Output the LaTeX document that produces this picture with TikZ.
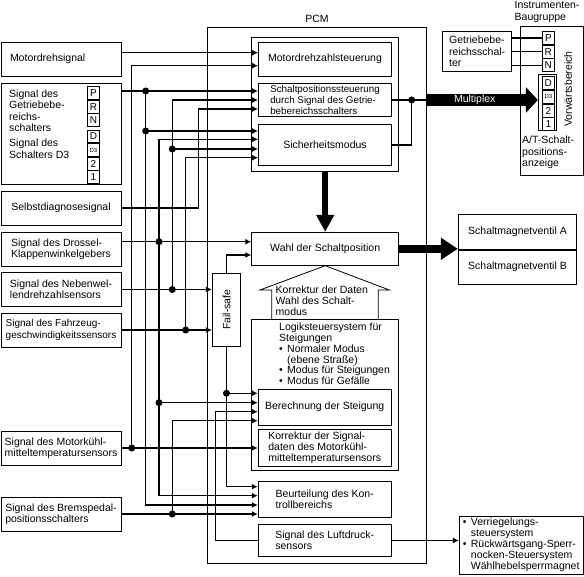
\documentclass[tikz,border=0pt]{standalone}
\usepackage{fontspec}
\setmainfont{Liberation Sans}
\usepackage{tikz}
\usetikzlibrary{positioning,arrows.meta,calc}
\definecolor{ink}{HTML}{000000}
\newcommand{\bul}{\makebox[8pt][l]{\textbullet}}
\newcommand{\nobul}{\hspace*{8pt}}
\tikzset{
  box/.style={draw=ink, line width=0.8pt, inner sep=0pt, align=left, font=\fontsize{10.5}{11.2}\selectfont, text=ink},
  sig/.style={draw=ink, line width=1.4pt, -{Latex[length=6pt,width=6pt]}},
  wire/.style={draw=ink, line width=1.4pt},
  jn/.style={circle, fill=ink, inner sep=0pt, minimum size=7pt},
  lbl/.style={font=\fontsize{10.5}{11.2}\selectfont, text=ink, align=left, inner sep=0pt},
}

\begin{document}
\begin{tikzpicture}[x=1pt, y=-1pt,
  lbox/.style={box, minimum width=120pt, minimum height=34pt},
  sub/.style={box, minimum width=133pt},
  cell/.style={draw=ink, line width=0.8pt, minimum width=12pt, minimum height=12.8pt, inner sep=0pt, font=\fontsize{10}{10}\selectfont},
  fat/.style={draw=ink, line width=#1}]
\useasboundingbox (0,0) rectangle (584,577);

\node[box, line width=0.7pt, minimum width=219.4pt, minimum height=535.7pt] (pcm) at (317,295.15) {};
\node[lbl, above=4pt of pcm] (pcml) {PCM};

\node[lbox, text width=102pt] (mds) at (61,59) {Motordrehsignal};
\node[lbox, minimum height=101pt] (gbr) at (61,133.5) {};
\node[lbl, anchor=west] (gbrt1) at (9,110.7) {Signal des\\Getriebebe-\\reichs-\\schalters};
\node[lbl, anchor=west] (gbrt2) at (9,148.8) {Signal des\\Schalters D3};
\node[cell] (lP) at (93.5,93.1) {P};
\node[cell, below=0pt of lP] (lR) {R};
\node[cell, below=0pt of lR] (lN) {N};
\node[cell] (lD) at (93.5,136.5) {D};
\node[cell, below=0pt of lD] (lD3) {\fontsize{6}{6}\selectfont D3};
\node[cell, below=0pt of lD3] (l2) {2};
\node[cell, below=0pt of l2] (l1) {1};
\node[lbox] (sds) at (61,208) {Selbstdiagnosesignal};
\node[lbox] (dkw) at (61,249) {Signal des Drossel-\\Klappenwinkelgebers};
\node[lbox] (nws) at (61,289.5) {Signal des Nebenwel-\\lendrehzahlsensors};
\node[lbox, font=\fontsize{10}{11.2}\selectfont] (fgs) at (61,330) {Signal des Fahrzeug-\\geschwindigkeitssensors};
\node[lbox] (mkt) at (61,448) {Signal des Motorkühl-\\mitteltemperatursensors};
\node[lbox] (bps) at (61,514) {Signal des Bremspedal-\\positionsschalters};

\node[box, minimum width=147pt, minimum height=134.4pt] (grp) at (325.2,104.5) {};
\node[sub, minimum height=33.7pt] (mdz) at (325,59.2) {Motordrehzahlsteuerung};
\node[sub, minimum height=33.4pt, font=\fontsize{9.8}{10.8}\selectfont] (spc) at (325,100) {Schaltpositionssteuerung\\durch Signal des Getrie-\\bebereichsschalters};
\node[sub, minimum height=41.7pt] (sich) at (325,144.85) {Sicherheitsmodus};

\node[box, minimum width=147pt, minimum height=33pt] (wahl) at (325.2,248.8) {Wahl der Schaltposition};
\node[box, minimum width=28.4pt, minimum height=72.7pt] (fs) at (226.5,309.7) {\rotatebox{90}{Fail-safe}};

\draw[draw=ink, line width=0.8pt] (271.7,319.3) -- (271.7,290) -- (260,290) -- (wahl.south) -- (389.3,290) -- (378.3,290) -- (378.3,319.3);
\node[lbl, anchor=west] (kdw) at (275.5,301) {Korrektur der Daten\\Wahl des Schalt-\\modus};

\node[box, minimum width=147pt, minimum height=150.7pt] (logik) at (325.2,394.65) {};
\node[lbl, anchor=west, font=\fontsize{10.5}{10.8}\selectfont] (logt) at (279,354) {Logiksteuersystem für\\Steigungen\\\bul Normaler Modus\\\nobul(ebene Straße)\\\bul Modus für Steigungen\\\bul Modus für Gefälle};
\node[sub, minimum height=35.7pt] (ber) at (324.7,407.2) {Berechnung der Steigung};
\node[sub, minimum height=37.4pt] (kor) at (324.7,448) {Korrektur der Signal-\\daten des Motorkühl-\\mitteltemperatursensors};
\node[sub, minimum height=35.6pt] (bt) at (324.7,499.5) {Beurteilung des Kon-\\trollbereichs};
\node[sub, minimum height=32.4pt] (lfd) at (324.7,540.5) {Signal des Luftdruck-\\sensors};

\node[box, minimum width=118.4pt, minimum height=35.3pt, align=center] (smva) at (517.5,231.65) {Schaltmagnetventil A};
\node[box, minimum width=118.4pt, minimum height=34pt, align=center, below=0pt of smva] (smvb) {Schaltmagnetventil B};

\node[box, minimum width=123.7pt, minimum height=58pt, font=\fontsize{10.5}{11}\selectfont] (lock) at (521.2,545) {\bul Verriegelungs-\\\nobul steuersystem\\\bul Rückwärtsgang-Sperr-\\\nobul nocken-Steuersystem\\\nobul Wählhebelsperrmagnet};

\node[box, minimum width=62.3pt, minimum height=148.3pt] (inst) at (551.85,100.85) {};
\node[lbl, anchor=south west] (instl) at (514.5,22.5) {Instrumenten-\\Baugruppe};
\node[box, minimum width=69pt, minimum height=40.7pt] (gbs) at (477.2,51.35) {Getriebebe-\\reichsschal-\\ter};
\node[cell] (iP) at (548.35,38.1) {P};
\node[cell, below=0pt of iP] (iR) {R};
\node[cell, below=0pt of iR] (iN) {N};
\node[draw=ink, line width=0.8pt, minimum width=18.4pt, minimum height=56.7pt, inner sep=0pt] (dstk) at (547.5,102.35) {};
\node[cell, minimum height=12.9pt] (iD) at (548.35,83.15) {D};
\node[cell, minimum height=12.9pt, below=0pt of iD] (iD3) {\fontsize{6}{6}\selectfont D3};
\node[cell, minimum height=12.9pt, below=0pt of iD3] (i2) {2};
\node[cell, minimum height=12.9pt, below=0pt of i2] (i1) {1};
\node[lbl, rotate=90] (vwb) at (568,89) {Vorwärtsbereich};
\node[lbl, anchor=north west] (atl) at (522,136) {A/T-Schalt-\\positions-\\anzeige};

\coordinate (bA) at (131.7,0);
\coordinate (bB) at (145.7,0);
\coordinate (bC) at (159,0);
\coordinate (bD) at (172.3,0);
\coordinate (bE) at (185.7,0);
\coordinate (bF) at (198.3,0);
\coordinate (bH) at (215.7,0);
\coordinate (mux) at (411.7,100);

\draw[sig] (mds.east |- 0,52.7) -- (mdz.west |- 0,52.7);
\draw[sig] (bA |- mkt.east) -- (bA |- 0,65.7) -- (mdz.west |- 0,65.7);
\draw[sig] (gbr.east |- 0,91) -- (spc.west |- 0,91);
\draw[sig] (bB |- 0,91) -- (bB |- 0,505) -- (bt.west |- 0,505);
\draw[sig] (bB |- 0,131) -- (sich.west |- 0,131);
\draw[sig] (bD |- nws.east) -- (bD |- spc.west) -- (spc.west);
\draw[sig] (bD |- 0,149) -- (sich.west |- 0,149);
\draw[sig] (sds.east) -- (bF |- sds.east) -- (bF |- 0,109) -- (spc.west |- 0,109);
\draw[sig] (bC |- 0,495.7) -- (bC |- 0,139.3) -- (sich.west |- 0,139.3);
\draw[sig] (bC |- 0,495.7) -- (bt.west |- 0,495.7);
\draw[sig] (bE |- fgs.east) -- (bE |- 0,157.7) -- (sich.west |- 0,157.7);
\draw[sig] (dkw.east |- 0,241.7) -- (wahl.west |- 0,241.7);
\draw[sig] (nws.east) -- (fs.west |- nws.east);
\draw[sig] (fgs.east) -- (fs.west |- fgs.east);
\draw[sig] (fs.north) -- (fs.north |- 0,255) -- (wahl.west |- 0,255);
\draw[sig] (fs.south) -- (fs.south |- 0,486.7) -- (bt.west |- 0,486.7);
\draw[sig] (fs.south |- 0,393.3) -- (ber.west |- 0,393.3);
\draw[sig] (bC |- 0,402.7) -- (ber.west |- 0,402.7);
\draw[sig] (lfd.west) -- (bH |- lfd.west) -- (bH |- 0,411.7) -- (ber.west |- 0,411.7);
\draw[sig] (bD |- bps.east) -- (bD |- 0,420.7) -- (ber.west |- 0,420.7);
\draw[sig] (bps.east) -- (bt.west |- bps.east);
\draw[sig] (mkt.east) -- (kor.west);
\draw[wire] (spc.east) -- (mux);
\draw[wire] (sich.east) -- (mux |- sich.east) -- (mux) -- (pcm.east |- mux);
\draw[sig] (lfd.east) -- (lock.west |- lfd.east);
\draw[wire] (gbs.east |- iP.west) -- (iP.west);
\draw[wire] (gbs.east |- iR.west) -- (iR.west);
\draw[wire] (gbs.east |- iN.west) -- (iN.west);

\node[jn] (j1) at (bB |- 0,91) {};
\node[jn] (j2) at (bB |- 0,131) {};
\node[jn] (j3) at (bD |- 0,149) {};
\node[jn] (j4) at (bC |- 0,241.7) {};
\node[jn] (j5) at (bD |- nws.east) {};
\node[jn] (j6) at (bE |- fgs.east) {};
\node[jn] (j7) at (fs.south |- 0,393.3) {};
\node[jn] (j8) at (bC |- 0,402.7) {};
\node[jn] (j9) at (bA |- mkt.east) {};
\node[jn] (j10) at (bD |- bps.east) {};
\node[jn] (j11) at (mux) {};

\draw[fat=12pt, -{Triangle[length=12pt,width=25pt]}] (pcm.east |- mux) -- (dstk.west |- mux) node[lbl, pos=0.43, text=white] (mpx) {Multiplex};
\draw[fat=6.5pt, -{Triangle[length=17pt,width=17pt]}] (grp.south) -- (wahl.north);
\draw[fat=8pt, -{Triangle[length=17pt,width=21pt]}] (wahl.east) -- (wahl.east -| smva.west);
\end{tikzpicture}
\end{document}
